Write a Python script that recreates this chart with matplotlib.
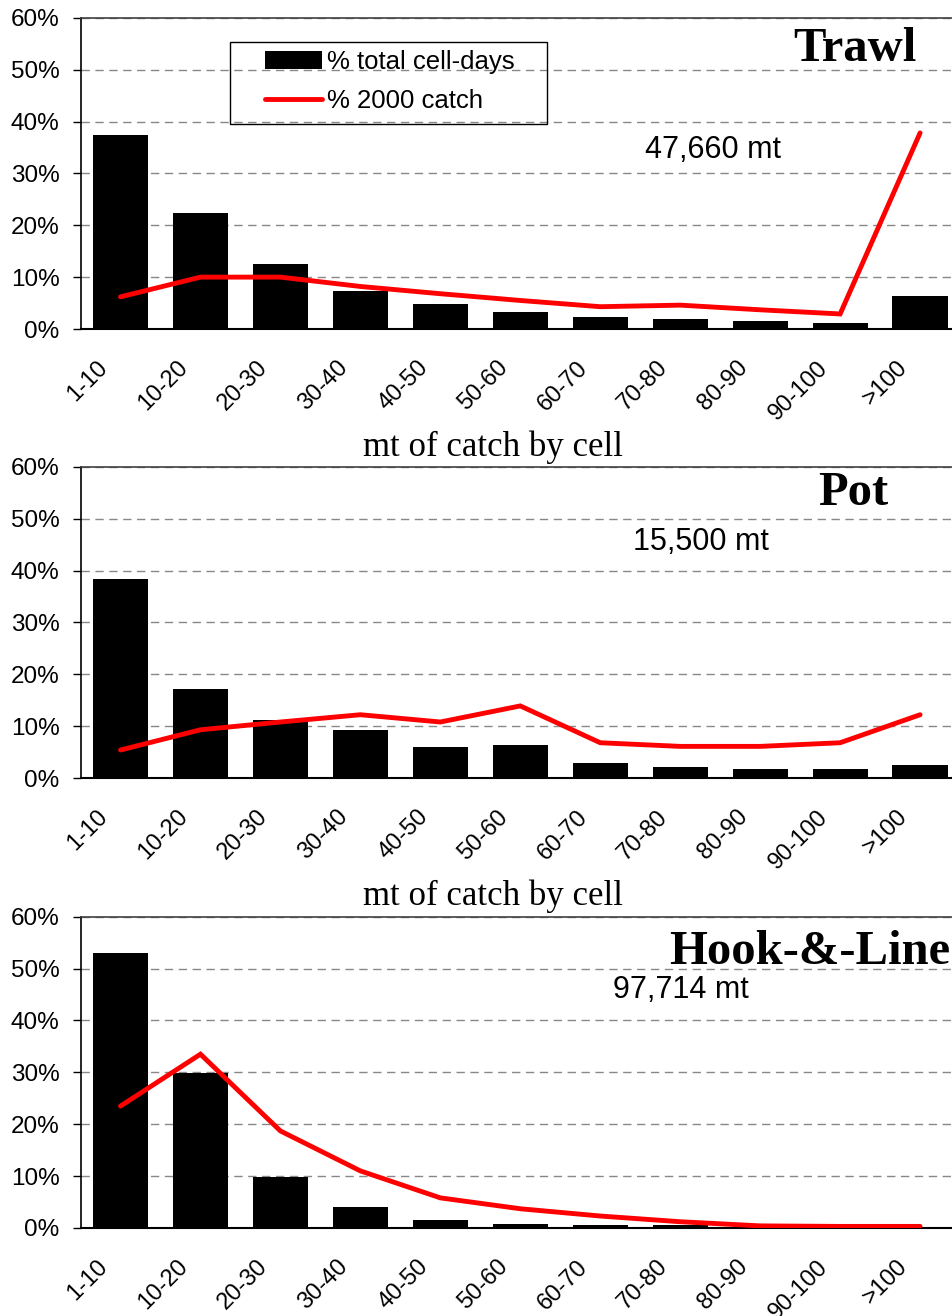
import matplotlib
matplotlib.use("Agg")
import matplotlib.pyplot as plt
import matplotlib.transforms as mtransforms
from matplotlib.patches import Rectangle
from matplotlib.ticker import PercentFormatter

plt.rcParams['font.family'] = ['Liberation Sans', 'DejaVu Sans']

categories = ["1-10", "10-20", "20-30", "30-40", "40-50", "50-60",
              "60-70", "70-80", "80-90", "90-100", ">100"]

# % total cell-days (bars) and % 2000 catch (line)
trawl_days = [37.4, 22.4, 12.5, 7.3, 4.8, 3.3, 2.3, 1.9, 1.5, 1.2, 6.4]
trawl_catch = [6.2, 10.0, 10.0, 8.2, 6.8, 5.5, 4.3, 4.6, 3.7, 2.9, 37.8]

pot_days = [38.4, 17.2, 11.2, 9.3, 6.0, 6.4, 2.9, 2.1, 1.7, 1.7, 2.5]
pot_catch = [5.4, 9.3, 10.8, 12.2, 10.8, 13.9, 6.8, 6.1, 6.1, 6.8, 12.2]

hl_days = [53.1, 29.8, 9.8, 4.0, 1.5, 0.8, 0.5, 0.5, 0.2, 0.1, 0.1]
hl_catch = [23.5, 33.5, 18.7, 11.0, 5.8, 3.7, 2.3, 1.2, 0.4, 0.3, 0.3]

gears = ["Trawl", "Pot", "Hook-&-Line"]
totals = ["47,660 mt", "15,500 mt", "97,714 mt"]

fig = plt.figure(figsize=(9.53, 13.16), dpi=100)

left, width, height = 0.0845, 0.9229, 0.2365
bottoms = [0.750, 0.4088, 0.0669]
panels = [(trawl_days, trawl_catch), (pot_days, pot_catch), (hl_days, hl_catch)]
title_pos = [(0.881, 0.900), (0.878, 0.916), (0.829, 0.888)]
total_pos = [(0.719, 0.575), (0.705, 0.758), (0.683, 0.765)]

serif = ['Liberation Serif', 'DejaVu Serif']

for i, (days, catch) in enumerate(panels):
    ax = fig.add_axes([left, bottoms[i], width, height])
    ax.patch.set_alpha(0)
    x = range(len(categories))
    bars = ax.bar(x, days, width=0.69, color='black', label='% total cell-days', zorder=2)
    line, = ax.plot(x, catch, color='#ff0000', lw=3.5, solid_capstyle='round',
                    solid_joinstyle='miter', label='% 2000 catch', zorder=3)

    ax.set_xlim(-0.5, 10.5)
    ax.set_ylim(0, 60)
    ax.set_yticks(range(0, 61, 10))
    ax.yaxis.set_major_formatter(PercentFormatter(decimals=0))
    ax.set_axisbelow(True)
    ax.yaxis.grid(True, linestyle=(0, (6, 4)), color='#888888', lw=1)

    ax.spines['right'].set_visible(False)
    ax.spines['top'].set_color('#404040')
    ax.spines['top'].set_linewidth(1.2)
    ax.spines['left'].set_linewidth(1.2)
    ax.spines['bottom'].set_linewidth(1.5)

    ax.tick_params(axis='y', labelsize=17.5, length=6, width=1, pad=9)
    ax.tick_params(axis='x', length=0, pad=20)
    ax.set_xticks(list(x))
    ax.set_xticklabels(categories, rotation=45, ha='right', va='top', fontsize=17)
    shift = mtransforms.ScaledTranslation(-0.08, 0, fig.dpi_scale_trans)
    for lab in ax.get_xticklabels():
        lab.set_transform(lab.get_transform() + shift)

    if i < 2:
        ax.set_xlabel("mt of catch by cell", family=serif, fontsize=25)
        ax.xaxis.set_label_coords(0.469, -0.325)

    ax.text(*title_pos[i], gears[i], transform=ax.transAxes, family=serif,
            fontweight='bold', fontsize=35, ha='center', va='center')
    ax.text(*total_pos[i], totals[i], transform=ax.transAxes, fontsize=22,
            ha='center', va='center')

    if i == 0:
        ax.legend(handles=[bars, line], loc='upper left', bbox_to_anchor=(0.2098, 0.897),
                  frameon=False, fontsize=18.5, borderpad=0, borderaxespad=0,
                  handlelength=2.2, handletextpad=0.2, labelspacing=0.6)
        ax.add_patch(Rectangle((0.170, 0.6592), 0.3605, 0.2636, transform=ax.transAxes,
                               fill=False, edgecolor='black', lw=1, zorder=4))

fig.savefig("out.png", dpi=100)
